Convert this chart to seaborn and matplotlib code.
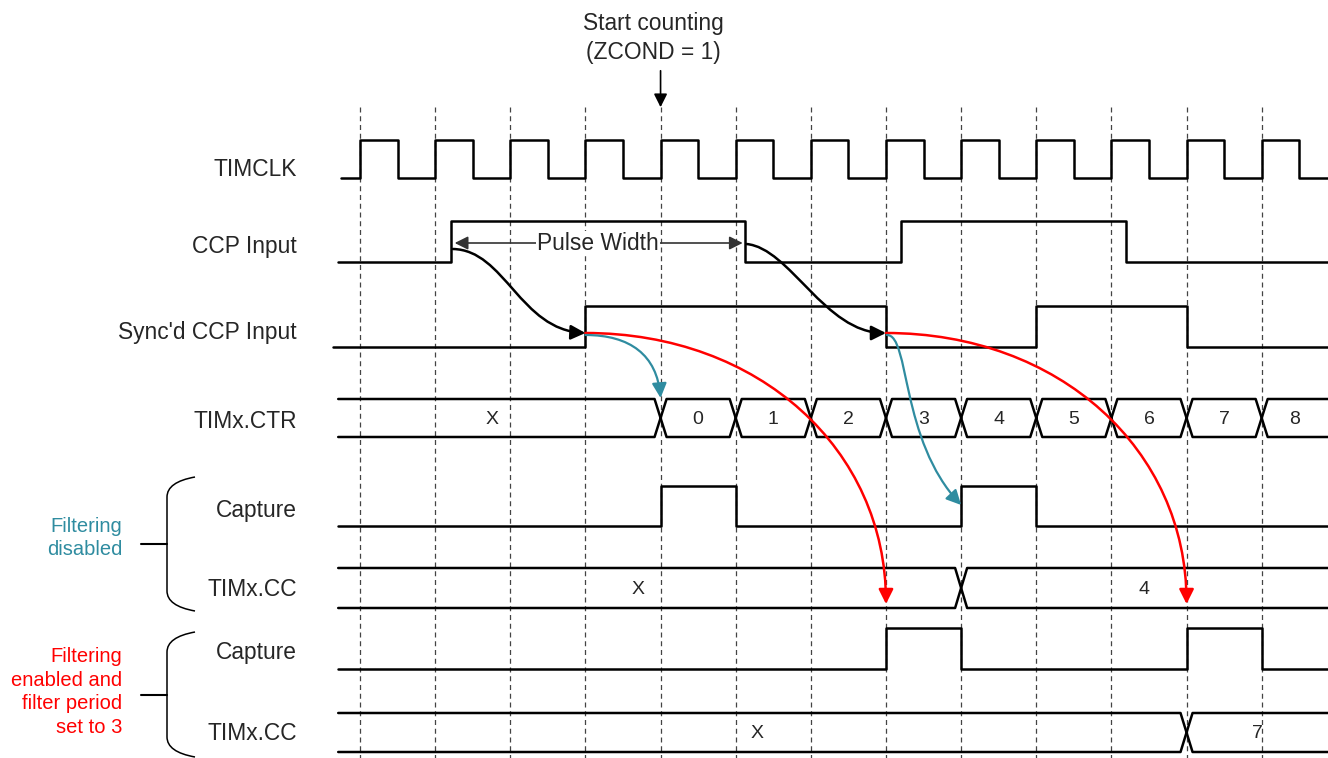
import numpy as np
import pandas as pd
import seaborn as sns
import matplotlib.pyplot as plt
from matplotlib.path import Path
from matplotlib.patches import PathPatch, FancyArrowPatch

sns.set_style("white")
plt.rcParams['font.family'] = ['Liberation Sans', 'DejaVu Sans']

# timing data (times in TIMCLK periods, clock edge 0 = first dashed line)
clk_rise = list(range(13))
ccp_edges = [1.21, 5.13, 7.2, 10.19]
sync_edges = [3, 7, 9, 11]
ctr_cross = [4, 5, 6, 7, 8, 9, 10, 11, 12]
ctr_vals = ["X", "0", "1", "2", "3", "4", "5", "6", "7", "8"]
cap1_edges = [4, 5, 8, 9]
cc1_cross = [8]
cc1_vals = ["X", "4"]
cap2_edges = [7, 8, 11, 12]
cc2_cross = [11]
cc2_vals = ["X", "7"]

# layout (pixels)
X0, P = 360.0, 75.14
T_END = 12.88
teal = "#2f8ca0"
red = "#ff0000"


def tx(t):
    return X0 + P * t


fig = plt.figure(figsize=(13.28, 7.58), dpi=100)
ax = fig.add_axes([0, 0, 1, 1])
ax.set_xlim(0, 1328)
ax.set_ylim(758, 0)
ax.axis("off")

# dashed grid at clock rising edges
for k in clk_rise:
    ax.plot([tx(k), tx(k)], [107, 758], color="#444444", lw=0.9, dashes=(4, 3), zorder=1)


def wave(edges, t0, y_lo, y_hi, t1=T_END, start_high=False):
    xs, ys = [t0], [y_hi if start_high else y_lo]
    lvl = start_high
    for e in edges:
        xs += [e, e]
        ys += [y_hi if lvl else y_lo, y_lo if lvl else y_hi]
        lvl = not lvl
    xs.append(t1)
    ys.append(y_hi if lvl else y_lo)
    df = pd.DataFrame({"x": [tx(v) for v in xs], "y": ys})
    sns.lineplot(data=df, x="x", y="y", sort=False, estimator=None,
                 color="black", lw=1.8, ax=ax, zorder=3)


def bus(cross, vals, t0, y_top, y_bot, t1=T_END, fs=14, first_shift=0.0):
    d = 0.08
    ym = (y_top + y_bot) / 2
    bounds = [t0] + cross + [t1]
    for i in range(len(bounds) - 1):
        a, b = bounds[i], bounds[i + 1]
        xs, ys = [], []
        if i == 0:
            xs += [a]; ys += [y_top]
        else:
            xs += [a, a + d]; ys += [ym, y_top]
        if i == len(bounds) - 2:
            xs += [b]; ys += [y_top]
            ax.plot([tx(v) for v in xs], ys, color="black", lw=1.8, zorder=3)
            xs2, ys2 = ([a], [y_bot]) if i == 0 else ([a, a + d], [ym, y_bot])
            xs2 += [b]; ys2 += [y_bot]
            ax.plot([tx(v) for v in xs2], ys2, color="black", lw=1.8, zorder=3)
        else:
            xs += [b - d, b, b - d]; ys += [y_top, ym, y_bot]
            if i == 0:
                xs += [a]; ys += [y_bot]
            else:
                xs += [a + d, a]; ys += [y_bot, ym]
            ax.plot([tx(v) for v in xs], ys, color="black", lw=1.8, zorder=3)
        xc = (a + b) / 2 + (first_shift if i == 0 else 0)
        ax.text(tx(xc), ym + 1, vals[i], ha="center", va="center", fontsize=fs)


# TIMCLK
clk_edges = []
for k in clk_rise:
    clk_edges += [k, k + 0.5]
wave(clk_edges, -0.25, 178, 140)
wave(ccp_edges, -0.29, 262, 221)
wave(sync_edges, -0.36, 347, 306)
bus(ctr_cross, ctr_vals, -0.29, 399, 437, first_shift=-0.1)
wave(cap1_edges, -0.29, 526, 486)
bus(cc1_cross, cc1_vals, -0.29, 568, 608, first_shift=-0.16)
wave(cap2_edges, -0.29, 669, 628)
bus(cc2_cross, cc2_vals, -0.29, 713, 752, first_shift=-0.07)

# signal names
names = ["TIMCLK", "CCP Input", "Sync'd CCP Input", "TIMx.CTR",
         "Capture", "TIMx.CC", "Capture", "TIMx.CC"]
name_y = [170, 247, 332, 421, 510, 590, 653, 733]
for n, y in zip(names, name_y):
    ax.text(297, y, n, ha="right", va="center", fontsize=16.4)

# top annotation
ax.text(653, 38, "Start counting\n(ZCOND = 1)", ha="center", va="center",
        fontsize=16.4, linespacing=1.3)
ax.add_patch(FancyArrowPatch((tx(4), 68), (tx(4), 110), arrowstyle="-|>",
                             mutation_scale=20, color="black", lw=1.2))

# pulse width
pw_y = 243
ax.add_patch(FancyArrowPatch((tx(3.1), pw_y), (tx(ccp_edges[0]) + 1, pw_y), arrowstyle="-|>",
                             mutation_scale=20, color="#333333", lw=1.2, zorder=4))
ax.add_patch(FancyArrowPatch((tx(3.9), pw_y), (tx(ccp_edges[1]), pw_y), arrowstyle="-|>",
                             mutation_scale=20, color="#333333", lw=1.2, zorder=4))
ax.text(598, pw_y, "Pulse Width", ha="center", va="center", fontsize=16.4,
        bbox=dict(facecolor="white", edgecolor="none", pad=0.5), zorder=5)


def curve(p0, p1, p2, p3, color, lw=1.8, ms=22):
    path = Path([p0, p1, p2, p3], [Path.MOVETO, Path.CURVE4, Path.CURVE4, Path.CURVE4])
    ax.add_patch(FancyArrowPatch(path=path, arrowstyle="-|>", mutation_scale=ms,
                                 color=color, lw=lw, zorder=6))


# black causal arrows
x_s1, x_s2 = tx(sync_edges[0]), tx(sync_edges[1])
curve((tx(ccp_edges[0]) + 2, 249), (505, 250), (520, 330), (x_s1, 333), "black")
curve((tx(ccp_edges[1]) + 1, 244), (790, 248), (825, 333), (x_s2, 333), "black")

# red (filtered) arrows
curve((x_s1, 333), (760, 333), (tx(7), 450), (tx(7), 604), red)
curve((x_s2, 333), (1060, 333), (tx(11), 450), (tx(11), 604), red)

# teal (unfiltered) arrows
curve((x_s1, 335), (630, 335), (657, 355), (tx(4), 398), teal, lw=1.6)
curve((x_s2 + 1, 335), (910, 335), (900, 440), (tx(8), 505), teal, lw=1.6)

# braces
for top, bot in [(477, 611), (632, 757)]:
    mid = (top + bot) / 2
    verts = [(195, top), (167, top + 5), (167, top + 20), (167, bot - 20),
             (167, bot - 5), (195, bot)]
    codes = [Path.MOVETO, Path.CURVE3, Path.CURVE3, Path.LINETO, Path.CURVE3, Path.CURVE3]
    ax.add_patch(PathPatch(Path(verts, codes), facecolor="none", edgecolor="black", lw=1.1))
    ax.plot([141, 167], [mid, mid], color="black", lw=1.5)

ax.text(122, 538, "Filtering\ndisabled", ha="right", va="center", fontsize=14.5,
        color=teal, linespacing=1.32)
ax.text(122, 692, "Filtering\nenabled and\nfilter period\nset to 3", ha="right",
        va="center", fontsize=14.5, color=red, linespacing=1.32)

fig.savefig("out.png", dpi=100)
